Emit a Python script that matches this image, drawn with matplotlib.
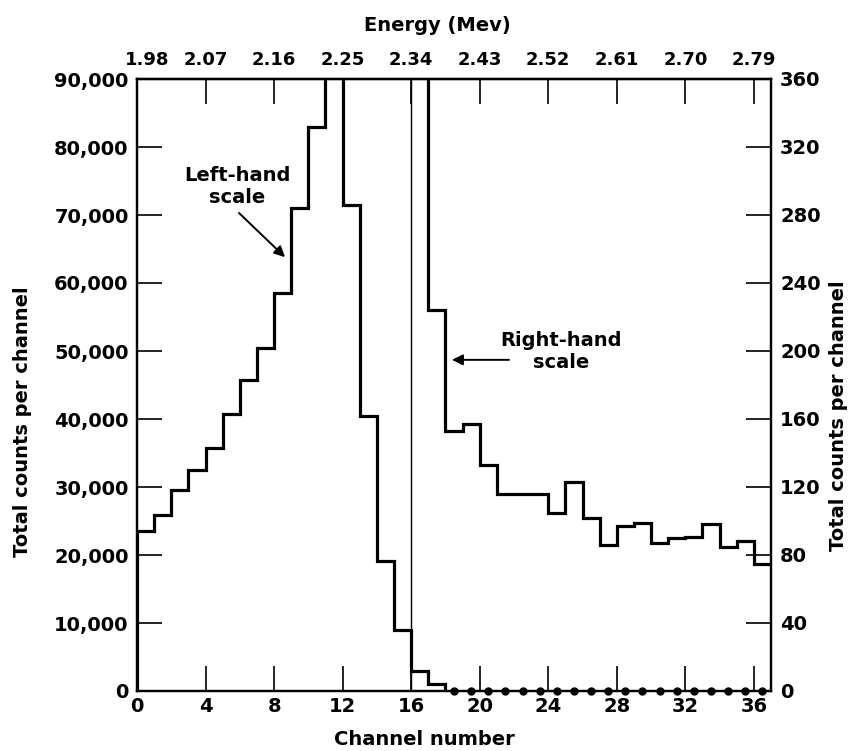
import matplotlib
matplotlib.use("Agg")
import matplotlib.pyplot as plt
import numpy as np
from matplotlib.ticker import StrMethodFormatter
from matplotlib.transforms import ScaledTranslation

# counts per channel on the left-hand scale, channels 0..17 (channel 11 runs off the top)
left_counts = [23600, 25900, 29500, 32500, 35800, 40800, 45700, 50400, 58500,
               71000, 83000, 98000, 71400, 40400, 19100, 9000, 3000, 1000]
# counts per channel on the right-hand scale, channels 16..36 (channel 16 runs off the top)
right_first_channel = 16
right_counts = [3000, 224, 153, 157, 133, 116, 116, 116, 105, 123, 102, 86,
                97, 99, 87, 90, 90.5, 98, 85, 88, 75]
# empty channels (left-hand scale), drawn as dots
zero_channels = [18, 19, 20, 21, 22, 23, 24, 25, 26, 27, 28, 29, 30, 31, 32,
                 33, 34, 35, 36]
zero_counts = [0, 0, 0, 0, 0, 0, 0, 0, 0, 0, 0, 0, 0, 0, 0, 0, 0, 0, 0]

channel_ticks = [0, 4, 8, 12, 16, 20, 24, 28, 32, 36]
energy_labels = ["1.98", "2.07", "2.16", "2.25", "2.34", "2.43", "2.52",
                 "2.61", "2.70", "2.79"]
left_ticks = [0, 10000, 20000, 30000, 40000, 50000, 60000, 70000, 80000, 90000]
right_ticks = [0, 40, 80, 120, 160, 200, 240, 280, 320, 360]
marker_channel = 16

plt.rcParams["font.family"] = "DejaVu Sans"
plt.rcParams["font.weight"] = "bold"
plt.rcParams["axes.labelweight"] = "bold"

fig = plt.figure(figsize=(8.57, 7.51), dpi=100)
ax = fig.add_axes([137 / 857, 1 - 691 / 751, 634 / 857, 612 / 751])
ax2 = ax.twinx()

# left-hand histogram
left_edges = np.arange(len(left_counts) + 1)
ax.stairs(left_counts, left_edges, baseline=0, color="k", lw=2.3)
ax.plot(np.array(zero_channels) + 0.5, zero_counts, "o", color="k", ms=5,
        clip_on=False, zorder=5)
ax.axvline(marker_channel, color="k", lw=1.0)

# right-hand histogram
right_edges = np.arange(right_first_channel, right_first_channel + len(right_counts) + 1)
ax2.stairs(right_counts, right_edges, baseline=None, color="k", lw=2.3)

ax.set_xlim(0, 37)
ax.set_ylim(0, 90000)
ax2.set_ylim(0, 360)

ax.set_xticks(channel_ticks)
ax.set_yticks(left_ticks)
ax.yaxis.set_major_formatter(StrMethodFormatter("{x:,.0f}"))
ax2.set_yticks(right_ticks)

ax.tick_params(axis="x", direction="in", length=18, width=1.2, pad=4, labelsize=14)
ax.tick_params(axis="y", direction="in", length=18, width=1.2, pad=6, labelsize=14)
ax2.tick_params(axis="y", direction="in", length=18, width=1.2, pad=6.5, labelsize=14)

for a in (ax, ax2):
    for s in a.spines.values():
        s.set_linewidth(1.6)

# energy scale along the top
secax = ax.secondary_xaxis("top")
secax.set_xticks(channel_ticks, labels=energy_labels)
secax.tick_params(direction="in", length=18, width=1.2, pad=7, labelsize=13)
secax.spines["top"].set_linewidth(1.6)
first = secax.xaxis.get_majorticklabels()[0]
first.set_transform(first.get_transform() + ScaledTranslation(0.1, 0, fig.dpi_scale_trans))

ax.text(0.473, 1.088, "Energy (Mev)", transform=ax.transAxes, ha="center",
        va="center", fontsize=14)

ax.set_xlabel("Channel number", fontsize=14)
ax.xaxis.set_label_coords(0.453, -0.08)
ax.xaxis.label.set_va("center")

ax.set_ylabel("Total counts per channel", fontsize=14)
ax.yaxis.set_label_coords(-0.181, 0.44)
ax.yaxis.label.set_va("center")

ax2.set_ylabel("Total counts per channel", fontsize=14)
ax2.yaxis.set_label_coords(1.106, 0.45)
ax2.yaxis.label.set_va("center")

# annotations
ax.text(5.84, 74200, "Left-hand\nscale", ha="center", va="center", fontsize=14)
ax.annotate("", xy=(8.64, 63800), xytext=(5.95, 70300),
            arrowprops=dict(arrowstyle="-|>", color="k", lw=1.4,
                            mutation_scale=16, shrinkA=0, shrinkB=0))
ax.text(24.74, 49900, "Right-hand\nscale", ha="center", va="center", fontsize=14)
ax.annotate("", xy=(18.38, 48700), xytext=(21.71, 48700),
            arrowprops=dict(arrowstyle="-|>", color="k", lw=1.4,
                            mutation_scale=16, shrinkA=0, shrinkB=0))

fig.savefig("out.png", dpi=100)
